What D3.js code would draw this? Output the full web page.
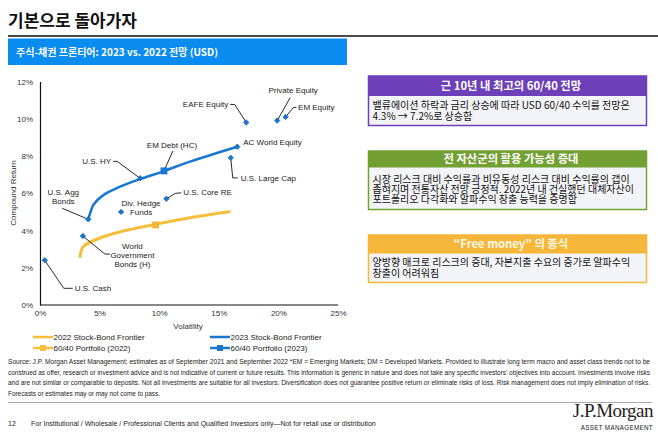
<!DOCTYPE html>
<html><head><meta charset="utf-8">
<script src="https://cdn.jsdelivr.net/npm/d3@7"></script>
<style>
html,body{margin:0;padding:0;background:#fff;}
svg{display:block;}
</style></head>
<body>
<svg id="c" width="658" height="438"></svg>
<script>
// ---------------- DATA ----------------
const assetNames = ["U.S. Cash","World Government Bonds (H)","U.S. Agg Bonds","U.S. HY","EM Debt (HC)","Div. Hedge Funds","U.S. Core RE","AC World Equity","U.S. Large Cap","EAFE Equity","Private Equity","EM Equity"];
const assetVol =   [0.4, 3.6, 4.05, 8.4, 10.4, 6.8, 10.6, 16.55, 16.0, 17.3, 19.9, 20.6];
const assetRet =   [2.4, 3.7, 4.6, 6.8, 7.2, 5.0, 5.7, 8.5, 7.9, 9.8, 9.9, 10.1];

const frontier2023Vol = [4.05, 4.25, 4.47, 5.31, 6.71, 8.39, 10.4, 12.58, 16.55];
const frontier2023Ret = [4.6, 5.01, 5.37, 5.9, 6.35, 6.76, 7.19, 7.7, 8.5];
const frontier2022Vol = [3.36, 3.63, 4.76, 6.99, 9.65, 12.58, 15.88];
const frontier2022Ret = [2.59, 3.13, 3.53, 3.97, 4.33, 4.69, 5.01];

const portfolioNames = ["60/40 Portfolio (2022)","60/40 Portfolio (2023)"];
const portfolioVol = [9.7, 10.4];
const portfolioRet = [4.3, 7.2];

const xTicks = [0,5,10,15,20,25];
const yTicks = [0,2,4,6,8,10,12];

const legendLabels = ["2022 Stock-Bond Frontier","2023 Stock-Bond Frontier","60/40 Portfolio (2022)","60/40 Portfolio (2023)"];

const titleText = "기본으로 돌아가자";
const subtitleText = "주식-채권 프론티어: 2023 vs. 2022 전망 (USD)";
const boxHeaders = ["근 10년 내 최고의 60/40 전망","전 자산군의 활용 가능성 증대","“Free money” 의 종식"];
const boxBodies = [
  ["밸류에이션 하락과 금리 상승에 따라 USD 60/40 수익률 전망은","4.3% → 7.2%로 상승함"],
  ["시장 리스크 대비 수익률과 비유동성 리스크 대비 수익률의 갭이","좁혀지며 전통자산 전망 긍정적. 2022년 내 건실했던 대체자산이","포트폴리오 다각화와 알파수익 창출 능력을 증명함"],
  ["양방향 매크로 리스크의 증대, 자본지출 수요의 증가로 알파수익","창출이 어려워짐"]
];
const sourceLines = [
  "Source: J.P. Morgan Asset Management; estimates as of September 2021 and September 2022 *EM = Emerging Markets; DM = Developed Markets. Provided to illustrate long term macro and asset class trends not to be",
  "construed as offer, research or investment advice and is not indicative of current or future results. This information is generic in nature and does not take any specific investors’ objectives into account. Investments involve risks",
  "and are not similar or comparable to deposits. Not all investments are suitable for all investors. Diversification does not guarantee positive return or eliminate risks of loss. Risk management does not imply elimination of risks.",
  "Forecasts or estimates may or may not come to pass."
];
const footerText = "For Institutional / Wholesale / Professional Clients and Qualified Investors only—Not for retail use or distribution";

// ---------------- STYLE / LAYOUT ----------------
const BLUE = "#1877d2", YELLOW = "#f5bf3c", KR = "'Noto Sans CJK KR','Noto Sans',sans-serif", LAT = "'Liberation Sans',Arial,sans-serif";
const boxColors = ["#6d3fb8","#73a033","#f5b63a"];
const boxY = [[76,96,125.5],[151,167.5,209.5],[235,253.5,282.5]];
const boxLineY = [[105,116.7],[179,189.5,199.8],[262.7,273.3]];
// label layout: offsets relative to point (px)
const labelLayout = {
  "U.S. Cash": {leader:[[19,28],[28,28]], anchor:"start", dx:30, dys:[28], lines:["U.S. Cash"]},
  "World Government Bonds (H)": {leader:[[22,18],[27,18]], anchor:"middle", dx:49.5, dys:[10,19,28], lines:["World","Government","Bonds (H)"]},
  "U.S. Agg Bonds": {leader:[[-26,-11]], anchor:"middle", dx:-25, dys:[-27,-18], lines:["U.S. Agg","Bonds"]},
  "U.S. HY": {leader:[[-23,-17],[-27,-17]], anchor:"end", dx:-29, dys:[-17], lines:["U.S. HY"]},
  "EM Debt (HC)": {leader:[[9,-20]], anchor:"middle", dx:8, dys:[-26], lines:["EM Debt (HC)"]},
  "Div. Hedge Funds": {leader:[], anchor:"middle", dx:20, dys:[-9,0], lines:["Div. Hedge","Funds"]},
  "U.S. Core RE": {leader:[[9,-5.5],[15,-6]], anchor:"start", dx:17, dys:[-6.5], lines:["U.S. Core RE"]},
  "AC World Equity": {leader:[], anchor:"start", dx:6, dys:[-4.5], lines:["AC World Equity"]},
  "U.S. Large Cap": {leader:[[2,20],[7,20]], anchor:"start", dx:10, dys:[20], lines:["U.S. Large Cap"]},
  "EAFE Equity": {leader:[[-11.5,-18],[-16,-18]], anchor:"end", dx:-18, dys:[-18], lines:["EAFE Equity"]},
  "Private Equity": {leader:[[13,-23]], anchor:"middle", dx:16, dys:[-30], lines:["Private Equity"]},
  "EM Equity": {leader:[[8,-9.5],[11,-9.5]], anchor:"start", dx:12.5, dys:[-9.5], lines:["EM Equity"]}
};

const svg = d3.select("#c");

// ---------------- HEADER ----------------
svg.append("text").attr("x",8).attr("y",26.5).attr("font-family",KR).attr("font-weight","bold")
  .attr("font-size",17).attr("fill","#111").text(titleText);
svg.append("line").attr("x1",8).attr("x2",658).attr("y1",36).attr("y2",36).attr("stroke","#111").attr("stroke-width",1.3);
svg.append("rect").attr("x",8).attr("y",38.5).attr("width",339).attr("height",26.5).attr("fill","#0a8cf0");
svg.append("text").attr("x",16).attr("y",55.5).attr("font-family",KR).attr("font-weight","bold")
  .attr("font-size",10).attr("fill","#fff").text(subtitleText);

// ---------------- CHART ----------------
const x = d3.scaleLinear().domain([0,25]).range([40,338]);
const y = d3.scaleLinear().domain([0,12]).range([305,81.5]);

const axX = d3.axisBottom(x).tickValues(xTicks).tickSize(0).tickPadding(5).tickFormat(d=>d+"%");
const axY = d3.axisLeft(y).tickValues(yTicks).tickSize(0).tickPadding(7).tickFormat(d=>d+"%");
const gx = svg.append("g").attr("transform",`translate(0,${y(0)})`).call(axX);
const gy = svg.append("g").attr("transform",`translate(${x(0)},0)`).call(axY);
[gx,gy].forEach(g=>{
  g.select(".domain").attr("stroke","#111").attr("stroke-width",1.2);
  g.selectAll("text").attr("font-family",LAT).attr("font-size",8).attr("fill","#333");
});
gx.select(".domain").attr("d",`M${x(0)},0H${x(25)}`);

svg.append("text").attr("x",188).attr("y",329).attr("text-anchor","middle").attr("font-family",LAT)
  .attr("font-size",8).attr("fill","#333").text("Volatility");
svg.append("text").attr("transform","translate(16,193) rotate(-90)").attr("text-anchor","middle")
  .attr("font-family",LAT).attr("font-size",8).attr("fill","#333").text("Compound Return");

const line = d3.line().x(d=>x(d[0])).y(d=>y(d[1])).curve(d3.curveCatmullRom.alpha(0.5));
svg.append("path").attr("d",line(d3.zip(frontier2022Vol,frontier2022Ret))).attr("fill","none")
  .attr("stroke",YELLOW).attr("stroke-width",3).attr("stroke-linecap","round");
svg.append("path").attr("d",line(d3.zip(frontier2023Vol,frontier2023Ret))).attr("fill","none")
  .attr("stroke",BLUE).attr("stroke-width",2.5).attr("stroke-linecap","round");

// leaders and labels
const gl = svg.append("g");
assetNames.forEach((n,i)=>{
  const px = x(assetVol[i]), py = y(assetRet[i]);
  const L = labelLayout[n];
  if (L.leader.length){
    const pts = [[px,py]].concat(L.leader.map(o=>[px+o[0],py+o[1]]));
    gl.append("path").attr("d",d3.line()(pts)).attr("fill","none").attr("stroke","#111").attr("stroke-width",0.9);
  }
  L.lines.forEach((t,k)=>{
    gl.append("text").attr("x",px+L.dx).attr("y",py+L.dys[k]).attr("dy","0.35em")
      .attr("text-anchor",L.anchor).attr("font-family",LAT).attr("font-size",8).attr("fill","#222").text(t);
  });
});

// asset points
const sq = d3.symbol().type(d3.symbolSquare).size(15);
assetNames.forEach((n,i)=>{
  svg.append("path").attr("d",sq()).attr("transform",`translate(${x(assetVol[i])},${y(assetRet[i])}) rotate(45)`)
    .attr("fill",BLUE).attr("stroke","#0d5aa8").attr("stroke-width",0.6);
});
// portfolio squares
const psq = d3.symbol().type(d3.symbolSquare).size(48);
portfolioNames.forEach((n,i)=>{
  svg.append("path").attr("d",psq()).attr("transform",`translate(${x(portfolioVol[i])},${y(portfolioRet[i])})`)
    .attr("fill",i===0?"#f2b534":BLUE);
});

// legend
const legItems = [
  {lab:legendLabels[0], c:YELLOW, x0:33, yy:337, mk:false},
  {lab:legendLabels[1], c:BLUE, x0:210, yy:337, mk:false},
  {lab:legendLabels[2], c:YELLOW, x0:33, yy:348, mk:true},
  {lab:legendLabels[3], c:BLUE, x0:210, yy:348, mk:true}
];
legItems.forEach(it=>{
  svg.append("line").attr("x1",it.x0).attr("x2",it.x0+20).attr("y1",it.yy).attr("y2",it.yy)
    .attr("stroke",it.c).attr("stroke-width",2.5);
  if (it.mk) svg.append("rect").attr("x",it.x0+7).attr("y",it.yy-3).attr("width",6).attr("height",6).attr("fill",it.c);
  svg.append("text").attr("x",it.x0+20.5).attr("y",it.yy).attr("dy","0.35em").attr("font-family",LAT)
    .attr("font-size",8).attr("fill","#222").text(it.lab);
});

// ---------------- RIGHT BOXES ----------------
boxHeaders.forEach((h,i)=>{
  const [y0,y1,y2] = boxY[i], c = boxColors[i];
  svg.append("rect").attr("x",368.5).attr("y",y0).attr("width",278).attr("height",y2-y0)
    .attr("fill","#f3f4f8").attr("stroke",c).attr("stroke-width",1.5);
  svg.append("rect").attr("x",368.5).attr("y",y0).attr("width",278).attr("height",y1-y0).attr("fill",c);
  svg.append("text").attr("x",511).attr("y",(y0+y1)/2).attr("dy","0.36em").attr("text-anchor","middle")
    .attr("font-family",KR).attr("font-weight","bold").attr("font-size",11.3)
    .attr("fill",i===2?"#fff8e8":"#fff").text(h);
  boxBodies[i].forEach((t,k)=>{
    svg.append("text").attr("x",372.5).attr("y",boxLineY[i][k]).attr("dy","0.36em")
      .attr("font-family",KR).attr("font-size",10).attr("fill","#111").text(t);
  });
});

// ---------------- FOOTER ----------------
sourceLines.forEach((t,k)=>{
  const tx = svg.append("text").attr("x",8).attr("y",364+k*10.6).attr("font-family",LAT)
    .attr("font-size",6.4).attr("fill","#222").text(t);
  if (k<3) tx.attr("textLength",642).attr("lengthAdjust","spacingAndGlyphs");
});
svg.append("line").attr("x1",8).attr("x2",652).attr("y1",402.5).attr("y2",402.5).attr("stroke","#aaa").attr("stroke-width",1.2);
svg.append("text").attr("x",8).attr("y",426).attr("font-family",LAT).attr("font-size",7).attr("fill","#222").text("12");
svg.append("text").attr("x",31).attr("y",426).attr("font-family",LAT).attr("font-size",7).attr("fill","#222").text(footerText);
svg.append("text").attr("x",653).attr("y",417).attr("text-anchor","end").attr("font-family","'Liberation Serif','DejaVu Serif',serif")
  .attr("font-size",19).attr("fill","#222").attr("letter-spacing",-0.5).text("J.P.Morgan");
svg.append("text").attr("x",653).attr("y",430).attr("text-anchor","end").attr("font-family",LAT)
  .attr("font-size",6.3).attr("fill","#222").attr("letter-spacing",0.3).text("ASSET MANAGEMENT");
</script>
</body></html>
